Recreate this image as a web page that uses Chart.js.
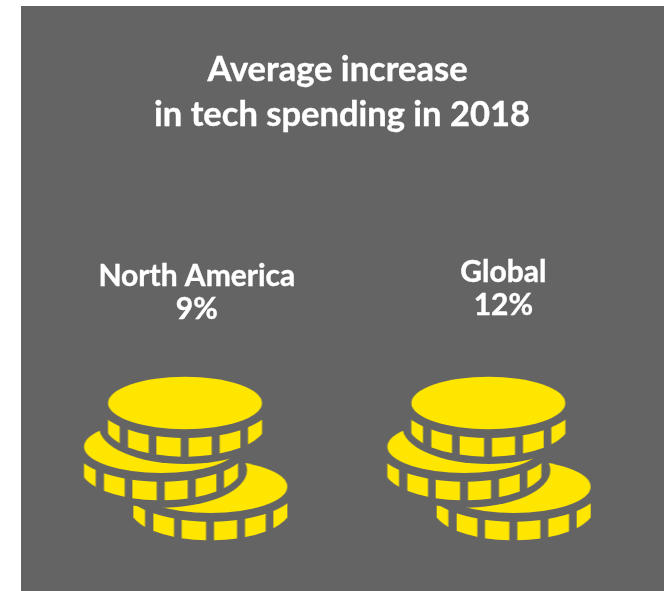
<!DOCTYPE html>
<html>
<head>
<meta charset="utf-8">
<title>Average increase in tech spending in 2018</title>
<style>
    html, body { margin: 0; padding: 0; background: #ffffff; }
    canvas { display: block; }
</style>
<script src="https://cdn.jsdelivr.net/npm/chart.js@4/dist/chart.umd.min.js"></script>
</head>
<body>
<canvas id="coinChart" width="664" height="591"></canvas>
<script>
const titleLines = ['Average increase', 'in tech spending in 2018'];
const regions = ['North America', 'Global'];
const increasePct = [9, 12];
const coinRow = [0, 0];

const PANEL = '#646464';
const YELLOW = '#ffe600';

// Rim blocks of one coin, as x ranges (drawn at 3x, scaled down later)
const rimBlocks = [[113, 148], [173, 235], [258, 331], [355, 424], [448, 510], [533, 575]];

function ellipsePath(c, x, y, rx, ry) {
    c.beginPath();
    c.ellipse(x, y, rx, ry, 0, 0, Math.PI * 2);
}

// dx, dy move the coin away from the top one
function drawCoin(c, dx, dy) {
    c.fillStyle = YELLOW;
    ellipsePath(c, 344 + dx, 99 + dy, 231, 79);
    c.fill();

    rimBlocks.forEach(([from, to]) => {
        c.save();
        c.beginPath();
        c.rect(from + dx, 120 + dy, to - from, 200);
        c.clip();
        ellipsePath(c, 344 + dx, 165 + dy, 240, 95);
        c.clip();
        // everything left inside the lower curve, minus the upper curve
        c.beginPath();
        c.rect(dx, dy, 800, 400);
        c.moveTo(344 + dx + 262, 100 + dy);
        c.ellipse(344 + dx, 100 + dy, 262, 104, 0, 0, Math.PI * 2);
        c.fill('evenodd');
        c.restore();
    });
}

// Clears the gap around a coin so the one below reads as tucked under it
function cutGap(c, dx, dy) {
    c.save();
    c.globalCompositeOperation = 'destination-out';
    c.fillStyle = '#000';
    ellipsePath(c, 344 + dx, 170 + dy, 258, 112);
    c.fill();
    c.restore();
}

function makeCoinIcon() {
    const icon = document.createElement('canvas');
    icon.width = 230;
    icon.height = 180;
    const c = icon.getContext('2d');
    c.scale(1 / 3, 1 / 3);
    drawCoin(c, 76, 251);
    cutGap(c, -72, 131);
    drawCoin(c, -72, 131);
    cutGap(c, 0, 0);
    drawCoin(c, 0, 0);
    return icon;
}

const panelPlugin = {
    id: 'panel',
    beforeDraw(chart) {
        const c = chart.ctx;
        c.save();
        c.fillStyle = PANEL;
        c.fillRect(21, 6, 643, 585);
        c.restore();
    }
};

function heavyText(c, text, x, y) {
    c.fillText(text, x, y);
    c.strokeText(text, x, y);
}

const textPlugin = {
    id: 'panelText',
    afterDraw(chart) {
        const c = chart.ctx;
        const xScale = chart.scales.x;
        c.save();
        c.fillStyle = '#ffffff';
        c.strokeStyle = '#ffffff';
        c.lineWidth = 0.4;
        c.textAlign = 'center';
        c.textBaseline = 'alphabetic';
        c.font = 'bold 34.5px Lato, sans-serif';
        heavyText(c, titleLines[0], 337.5, 81);
        heavyText(c, titleLines[1], 342, 126);

        c.font = 'bold 30px Lato, sans-serif';
        const labelShift = [11.5, 14.7];
        const labelBase = [286, 282];
        regions.forEach((region, i) => {
            const x = xScale.getPixelForValue(i) + labelShift[i];
            heavyText(c, region, x, labelBase[i]);
            heavyText(c, increasePct[i] + '%', x, labelBase[i] + 33);
        });
        c.restore();
    }
};

new Chart(document.getElementById('coinChart'), {
    type: 'line',
    data: {
        labels: regions,
        datasets: [{
            label: 'Average increase',
            data: coinRow,
            showLine: false,
            clip: false,
            pointStyle: makeCoinIcon()
        }]
    },
    options: {
        responsive: false,
        animation: false,
        events: [],
        layout: { autoPadding: false, padding: { left: 33.7, right: 23.7, top: 329, bottom: 0 } },
        plugins: { legend: { display: false }, tooltip: { enabled: false } },
        scales: {
            x: { type: 'category', offset: true, display: false },
            y: { min: -1, max: 1, display: false }
        }
    },
    plugins: [panelPlugin, textPlugin]
});
</script>
</body>
</html>
